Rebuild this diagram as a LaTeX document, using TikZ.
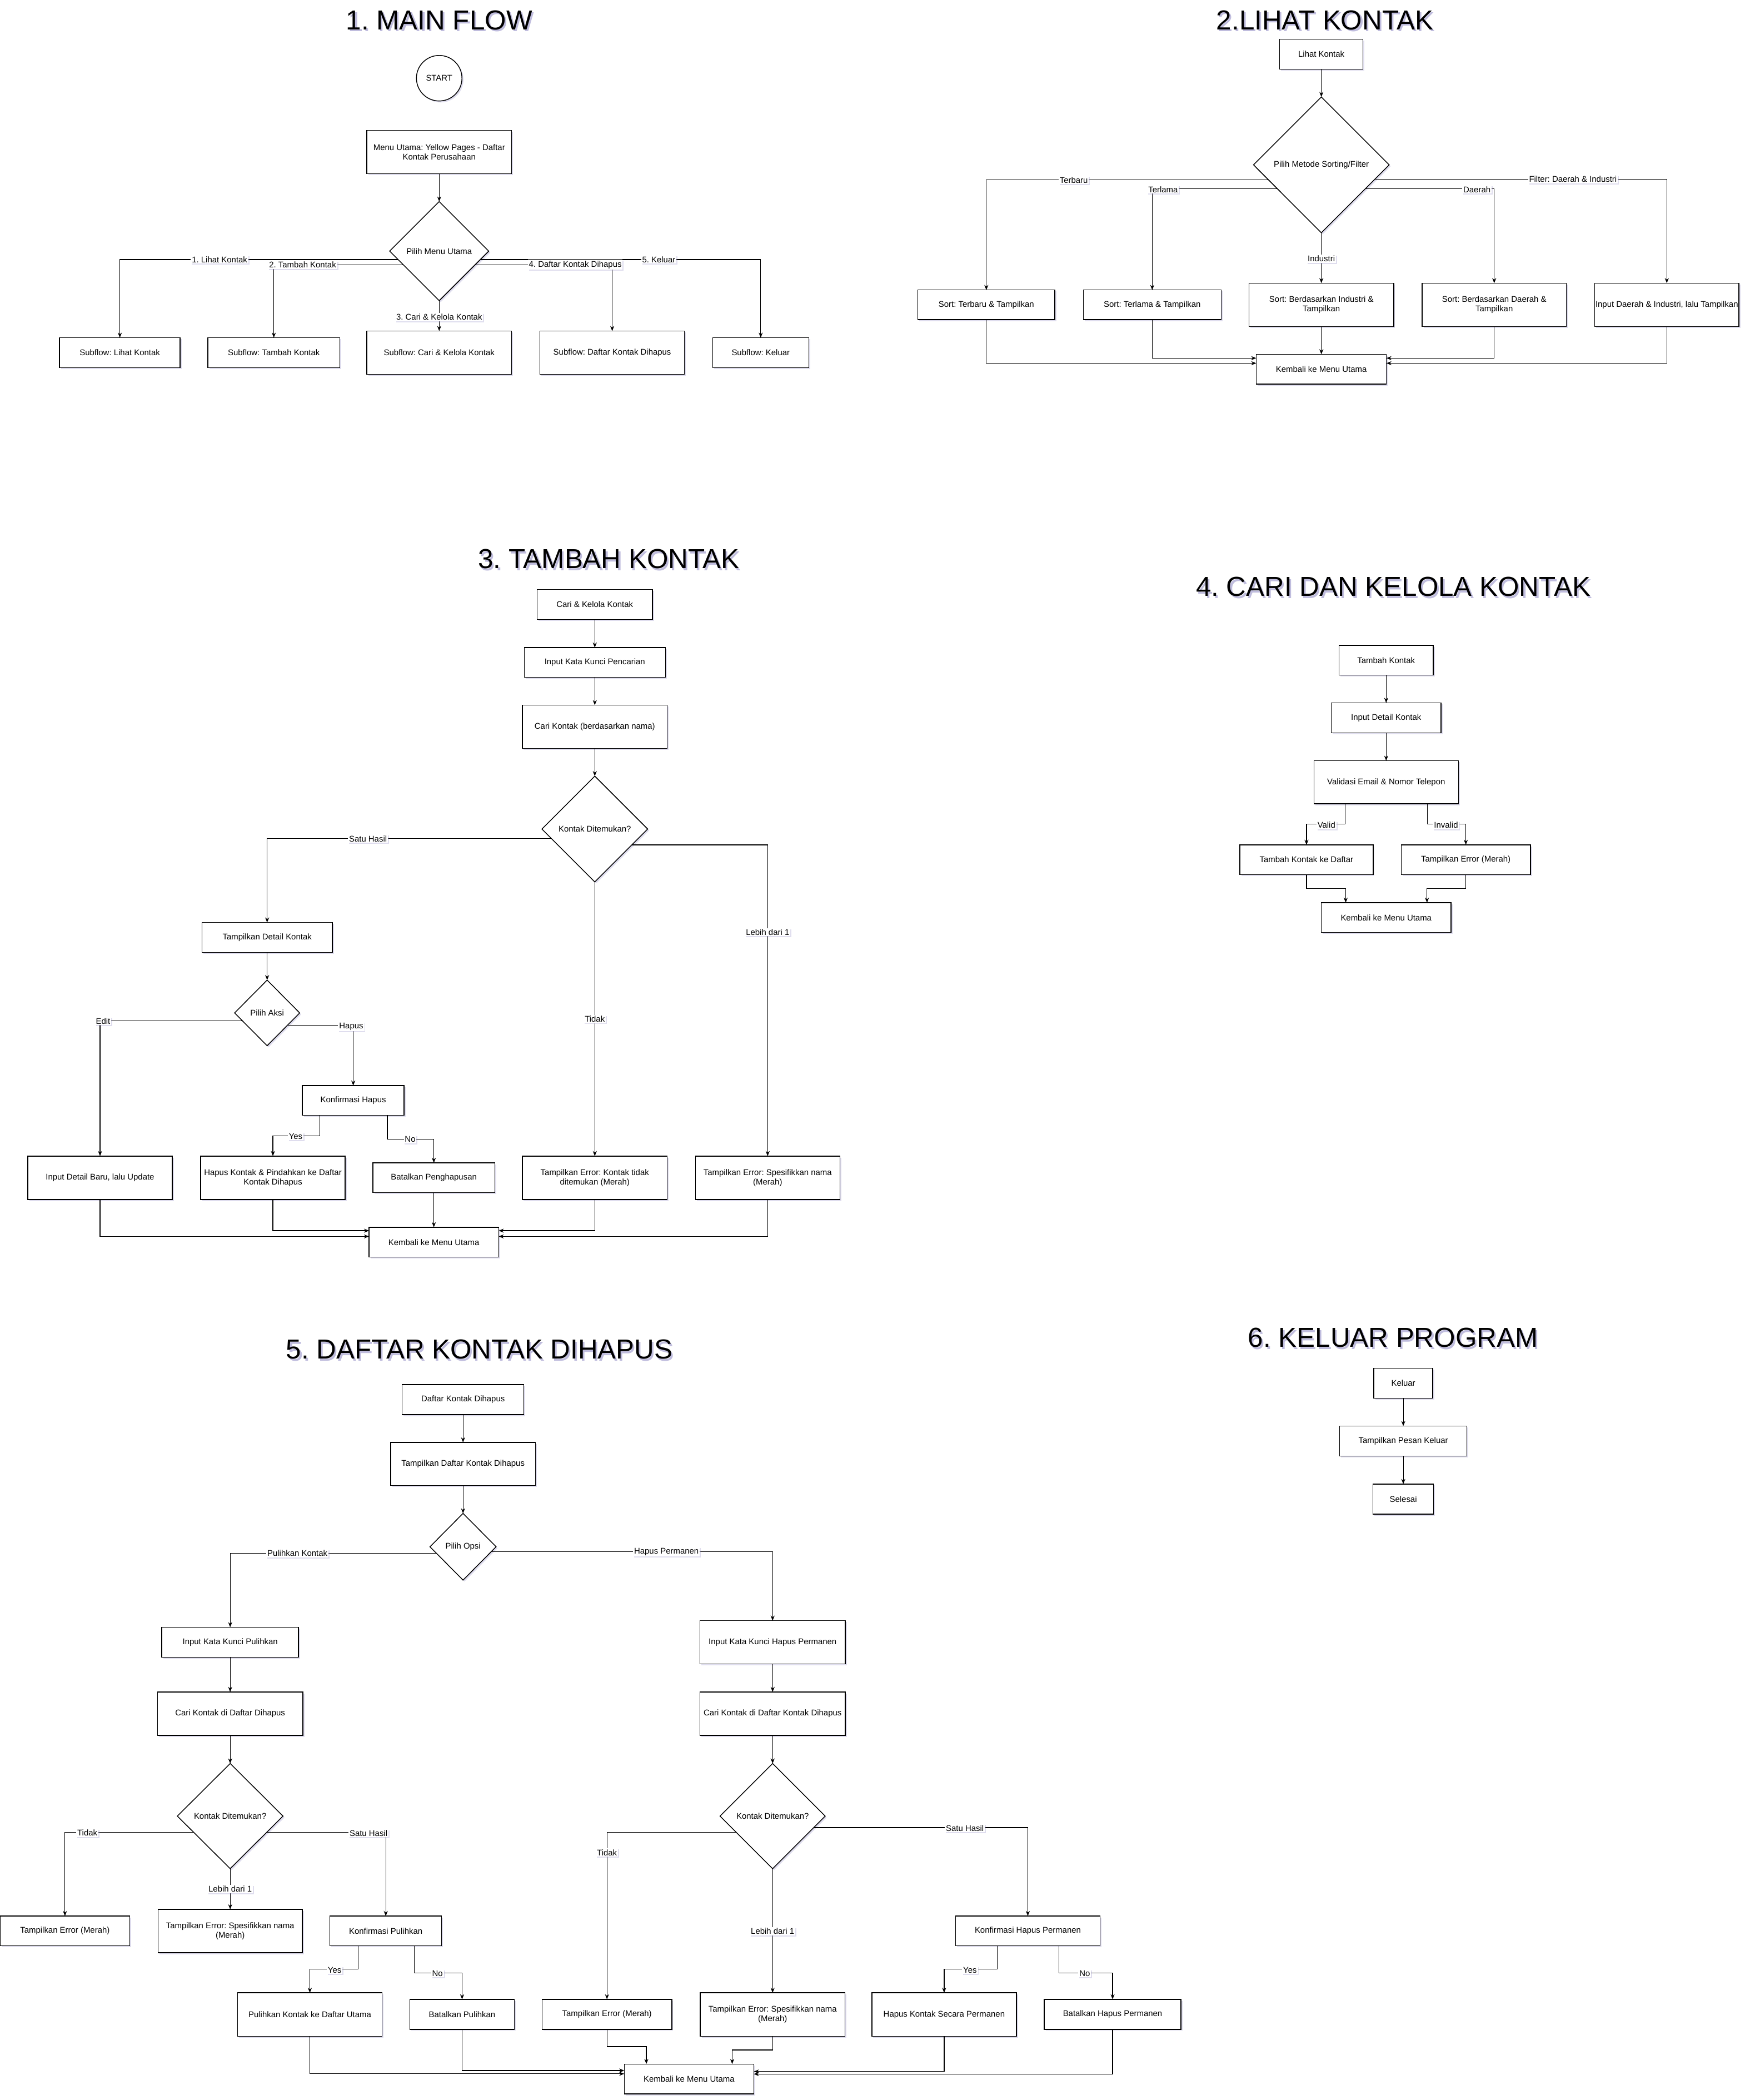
\documentclass[tikz,border=0pt]{standalone}
\usepackage{fontspec}
\setmainfont{Liberation Sans}
\usetikzlibrary{shapes.geometric,arrows.meta,calc,shadows}
\definecolor{shadowcol}{RGB}{150,145,200}
\newcommand\nodefont{\fontsize{6.2}{7.2}\selectfont}
\newcommand\ttlfont{\fontsize{20.5}{24}\selectfont}
\frenchspacing

\begin{document}
\begin{tikzpicture}[x=1pt,y=-1pt,
  every node/.style={outer sep=0pt},
  wh/.style 2 args={minimum width=#1pt,minimum height=#2pt},
  box/.style={draw=black,line width=0.6pt,fill=white,font=\nodefont,align=center,inner sep=0.3pt,
    drop shadow={shadow xshift=1.1pt,shadow yshift=-1.1pt,fill=shadowcol,opacity=0.3}},
  dia/.style={box,diamond,inner sep=0pt},
  arr/.style={draw=black,line width=0.5pt,-{Stealth[length=3.8pt,width=3pt]}},
  lbl/.style={fill=white,font=\nodefont,inner sep=0.8pt,
    drop shadow={shadow xshift=0.8pt,shadow yshift=-0.8pt,fill=shadowcol,opacity=0.3}},
  ttl/.style={font=\ttlfont,inner sep=0pt},
  ttlsh/.style={ttl,text=shadowcol!60}
]
\fill[white] (0,0) rectangle (1303,1568);
\useasboundingbox (0,0) rectangle (1303,1568);

% ---------- titles ----------
\node[ttlsh] (t1s) at (329.3,16.6) {1. MAIN FLOW};
\node[ttl] (t1) at (328,15) {1. MAIN FLOW};
\node[ttlsh] (t2s) at (990.8,16.6) {2.LIHAT KONTAK};
\node[ttl] (t2) at (989.5,15) {2.LIHAT KONTAK};
\node[ttlsh] (t3s) at (456,419.1) {3. TAMBAH KONTAK};
\node[ttl] (t3) at (454.7,417.5) {3. TAMBAH KONTAK};
\node[ttlsh] (t4s) at (1041.8,439.6) {4. CARI DAN KELOLA KONTAK};
\node[ttl] (t4) at (1040.5,438) {4. CARI DAN KELOLA KONTAK};
\node[ttlsh] (t5s) at (359.3,1009.2) {5. DAFTAR KONTAK DIHAPUS};
\node[ttl] (t5) at (358,1007.6) {5. DAFTAR KONTAK DIHAPUS};
\node[ttlsh] (t6s) at (1041.6,1000.4) {6. KELUAR PROGRAM};
\node[ttl] (t6) at (1040.3,998.8) {6. KELUAR PROGRAM};

% ---------- 1. main flow ----------
\node[box,circle,minimum size=34pt] (start) at (328,58.4) {START};
\node[box,wh={108}{32.4}] (menu) at (328,113.5) {Menu Utama: Yellow Pages - Daftar\\Kontak Perusahaan};
\node[dia,wh={74}{74}] (pmu) at (328,187.5) {Pilih Menu Utama};
\node[box,wh={90}{22.3}] (sf1) at (89.5,263.3) {Subflow: Lihat Kontak};
\node[box,wh={98.4}{22.3}] (sf2) at (204.5,263.3) {Subflow: Tambah Kontak};
\node[box,wh={108}{32.3}] (sf3) at (328,263.3) {Subflow: Cari \& Kelola Kontak};
\node[box,wh={108}{32.3}] (sf4) at (457.2,263.3) {Subflow: Daftar Kontak Dihapus};
\node[box,wh={71.8}{22.3}] (sf5) at (568.1,263.3) {Subflow: Keluar};

\draw[arr] (menu.south) -- (pmu.north);
\draw[arr] ($(pmu.west)!0.17!(pmu.south)$) -| (sf1.north);
\draw[arr] ($(pmu.west)!0.276!(pmu.south)$) -| (sf2.north);
\draw[arr] (pmu.south) -- (sf3.north);
\draw[arr] ($(pmu.east)!0.276!(pmu.south)$) -| (sf4.north);
\draw[arr] ($(pmu.east)!0.17!(pmu.south)$) -| (sf5.north);

\node[lbl] (l11) at (164,193.8) {1. Lihat Kontak};
\node[lbl] (l12) at (226,197.7) {2. Tambah Kontak};
\node[lbl] (l13) at (328,236.7) {3. Cari \& Kelola Kontak};
\node[lbl] (l14) at (429.6,197.7) {4. Daftar Kontak Dihapus};
\node[lbl] (l15) at (492,193.8) {5. Keluar};

% ---------- 2. lihat kontak ----------
\node[box,wh={62.2}{22.4}] (lk) at (986.8,40.4) {Lihat Kontak};
\node[dia,wh={101.3}{101.4}] (pms) at (986.8,123.1) {Pilih Metode Sorting/Filter};
\node[box,wh={102.2}{22.1}] (sb) at (736.6,227.6) {Sort: Terbaru \& Tampilkan};
\node[box,wh={103}{22.1}] (sl) at (860.5,227.6) {Sort: Terlama \& Tampilkan};
\node[box,wh={108}{32.4}] (si) at (986.8,227.6) {Sort: Berdasarkan Industri \&\\Tampilkan};
\node[box,wh={107.6}{32.4}] (sd) at (1115.9,227.6) {Sort: Berdasarkan Daerah \&\\Tampilkan};
\node[box,wh={107.6}{32.4}] (sf) at (1244.8,227.6) {Input Daerah \& Industri, lalu Tampilkan};
\node[box,wh={97.2}{22.3}] (k2) at (986.8,275.7) {Kembali ke Menu Utama};

\draw[arr] (lk.south) -- (pms.north);
\draw[arr] ($(pms.west)!0.223!(pms.south)$) -| (sb.north);
\draw[arr] ($(pms.west)!0.353!(pms.south)$) -| (sl.north);
\draw[arr] (pms.south) -- (si.north);
\draw[arr] ($(pms.east)!0.353!(pms.south)$) -| (sd.north);
\draw[arr] ($(pms.east)!0.211!(pms.south)$) -| (sf.north);
\draw[arr] (sb.south) |- ($(k2.west)+(0,-4.5)$);
\draw[arr] (sl.south) |- ($(k2.west)+(0,-8.3)$);
\draw[arr] (si.south) -- (k2.north);
\draw[arr] (sd.south) |- ($(k2.east)+(0,-8.3)$);
\draw[arr] (sf.south) |- ($(k2.east)+(0,-4.5)$);

\node[lbl] (l21) at (801.9,134.4) {Terbaru};
\node[lbl] (l22) at (868.6,141.5) {Terlama};
\node[lbl] (l23) at (1174.7,133.8) {Filter: Daerah \& Industri};
\node[lbl] (l24) at (1103,141.5) {Daerah};
\node[lbl] (l25) at (986.8,193.1) {Industri};

% ---------- 3. tambah kontak ----------
\node[box,wh={86}{22.4}] (ck) at (444.2,451.4) {Cari \& Kelola Kontak};
\node[box,wh={105.4}{22.2}] (ik) at (444.2,494.6) {Input Kata Kunci Pencarian};
\node[box,wh={108.3}{32.4}] (cn) at (444.2,542.7) {Cari Kontak (berdasarkan nama)};
\node[dia,wh={79}{79}] (kd3) at (444.2,619) {Kontak Ditemukan?};
\node[box,wh={97.5}{22.4}] (td) at (199.5,700) {Tampilkan Detail Kontak};
\node[dia,wh={48.6}{49}] (pa) at (199.5,756.3) {Pilih Aksi};
\node[box,wh={76}{22.3}] (kh) at (263.8,821.7) {Konfirmasi Hapus};
\node[box,wh={108}{32.4}] (ib) at (74.7,879.4) {Input Detail Baru, lalu Update};
\node[box,wh={108}{32.4}] (hk) at (203.8,879.4) {Hapus Kontak \& Pindahkan ke Daftar\\Kontak Dihapus};
\node[box,wh={91}{22.3}] (bp) at (324,879.4) {Batalkan Penghapusan};
\node[box,wh={108.3}{32.4}] (ek) at (444.2,879.4) {Tampilkan Error: Kontak tidak\\ditemukan (Merah)};
\node[box,wh={108}{32.4}] (es) at (573.3,879.4) {Tampilkan Error: Spesifikkan nama\\(Merah)};
\node[box,wh={96.8}{22.3}] (k3) at (324,927.5) {Kembali ke Menu Utama};

\draw[arr] (ck.south) -- (ik.north);
\draw[arr] (ik.south) -- (cn.north);
\draw[arr] (cn.south) -- (kd3.north);
\draw[arr] ($(kd3.west)!0.182!(kd3.south)$) -| (td.north);
\draw[arr] ($(kd3.east)!0.299!(kd3.south)$) -| (es.north);
\draw[arr] (kd3.south) -- (ek.north);
\draw[arr] (td.south) -- (pa.north);
\draw[arr] ($(pa.west)!0.235!(pa.south)$) -| (ib.north);
\draw[arr] ($(pa.east)!0.371!(pa.south)$) -| (kh.north);
\draw[arr] ($(kh.south)+(-25.1,0)$) -- ++(0,15.2) -| (hk.north);
\draw[arr] ($(kh.south)+(25.5,0)$) -- ++(0,17.6) -| (bp.north);
\draw[arr] (ib.south) |- ($(k3.west)+(0,-4.3)$);
\draw[arr] (hk.south) |- ($(k3.west)+(0,-8.6)$);
\draw[arr] (bp.south) -- (k3.north);
\draw[arr] (ek.south) |- ($(k3.east)+(0,-8.6)$);
\draw[arr] (es.south) |- ($(k3.east)+(0,-4.3)$);

\node[lbl] (l31) at (274.8,626.2) {Satu Hasil};
\node[lbl] (l32) at (573.3,696) {Lebih dari 1};
\node[lbl] (l33) at (444.2,760.8) {Tidak};
\node[lbl] (l34) at (77,762.3) {Edit};
\node[lbl] (l35) at (262.3,766.5) {Hapus};
\node[lbl] (l36) at (220.8,848.3) {Yes};
\node[lbl] (l37) at (306.3,850.6) {No};

% ---------- 4. cari dan kelola kontak ----------
\node[box,wh={70.4}{22.3}] (tk) at (1035.2,493) {Tambah Kontak};
\node[box,wh={82}{22.4}] (idk) at (1035.2,536) {Input Detail Kontak};
\node[box,wh={107.9}{32.2}] (ve) at (1035.2,584.1) {Validasi Email \& Nomor Telepon};
\node[box,wh={99.5}{22.2}] (tkd) at (975.7,641.9) {Tambah Kontak ke Daftar};
\node[box,wh={96.6}{22.2}] (tem) at (1094.7,641.9) {Tampilkan Error (Merah)};
\node[box,wh={96.9}{22.2}] (k4) at (1035.2,685.1) {Kembali ke Menu Utama};

\draw[arr] (tk.south) -- (idk.north);
\draw[arr] (idk.south) -- (ve.north);
\draw[arr] ($(ve.south)+(-30.6,0)$) -- ++(0,15.2) -| (tkd.north);
\draw[arr] ($(ve.south)+(30.9,0)$) -- ++(0,15.2) -| (tem.north);
\draw[arr] (tkd.south) -- ++(0,10.4) -| ($(k4.north)+(-30.2,0)$);
\draw[arr] (tem.south) -- ++(0,10.4) -| ($(k4.north)+(30.5,0)$);

\node[lbl] (l41) at (990.6,616) {Valid};
\node[lbl] (l42) at (1079.9,616) {Invalid};

% ---------- 6. keluar program ----------
\node[box,wh={44}{22.5}] (ke) at (1048,1032.8) {Keluar};
\node[box,wh={95}{22.5}] (tpk) at (1048,1076) {Tampilkan Pesan Keluar};
\node[box,wh={45.3}{22.5}] (sel) at (1048,1119.3) {Selesai};
\draw[arr] (ke.south) -- (tpk.north);
\draw[arr] (tpk.south) -- (sel.north);

% ---------- 5. daftar kontak dihapus ----------
\node[box,wh={90.9}{22.5}] (dkd) at (345.8,1045) {Daftar Kontak Dihapus};
\node[box,wh={108}{32.2}] (tdk) at (345.8,1093.1) {Tampilkan Daftar Kontak Dihapus};
\node[dia,wh={49.4}{49.8}] (po) at (345.8,1154.9) {Pilih Opsi};
\node[box,wh={102.1}{22.4}] (ikp) at (171.9,1226.2) {Input Kata Kunci Pulihkan};
\node[box,wh={108.4}{32.4}] (ikh) at (577,1226.3) {Input Kata Kunci Hapus Permanen};
\node[box,wh={108.7}{32.4}] (cdd) at (171.9,1279.5) {Cari Kontak di Daftar Dihapus};
\node[box,wh={108.4}{32.4}] (cdk) at (577,1279.5) {Cari Kontak di Daftar Kontak Dihapus};
\node[dia,wh={78.9}{78.5}] (kdl) at (171.9,1356) {Kontak Ditemukan?};
\node[dia,wh={78.5}{78.5}] (kdr) at (577,1356) {Kontak Ditemukan?};
\node[box,wh={97}{22.2}] (eml) at (48.5,1441.7) {Tampilkan Error (Merah)};
\node[box,wh={107.8}{32.3}] (esl) at (171.9,1441.8) {Tampilkan Error: Spesifikkan nama\\(Merah)};
\node[box,wh={83.5}{22.2}] (kp) at (288.1,1441.7) {Konfirmasi Pulihkan};
\node[box,wh={108}{32.5}] (pku) at (231.4,1504.2) {Pulihkan Kontak ke Daftar Utama};
\node[box,wh={78}{22.4}] (bpu) at (345.1,1504) {Batalkan Pulihkan};
\node[box,wh={96.8}{22.4}] (emr) at (453.3,1504) {Tampilkan Error (Merah)};
\node[box,wh={108}{32.5}] (esr) at (577,1504.2) {Tampilkan Error: Spesifikkan nama\\(Merah)};
\node[box,wh={107.7}{22.2}] (khp) at (767.6,1441.7) {Konfirmasi Hapus Permanen};
\node[box,wh={108}{32.5}] (hks) at (705.1,1504.2) {Hapus Kontak Secara Permanen};
\node[box,wh={102.2}{22.4}] (bhp) at (830.9,1504) {Batalkan Hapus Permanen};
\node[box,wh={96.7}{22.4}] (k5) at (514.6,1552.3) {Kembali ke Menu Utama};

\draw[arr] (dkd.south) -- (tdk.north);
\draw[arr] (tdk.south) -- (po.north);
\draw[arr] ($(po.west)!0.193!(po.south)$) -| (ikp.north);
\draw[arr] ($(po.east)!0.153!(po.south)$) -| (ikh.north);
\draw[arr] (ikp.south) -- (cdd.north);
\draw[arr] (ikh.south) -- (cdk.north);
\draw[arr] (cdd.south) -- (kdl.north);
\draw[arr] (cdk.south) -- (kdr.north);
\draw[arr] ($(kdl.west)!0.306!(kdl.south)$) -| (eml.north);
\draw[arr] (kdl.south) -- (esl.north);
\draw[arr] ($(kdl.east)!0.313!(kdl.south)$) -| (kp.north);
\draw[arr] ($(kp.south)+(-20.5,0)$) -- ++(0,17.6) -| (pku.north);
\draw[arr] ($(kp.south)+(21.2,0)$) -- ++(0,20.2) -| (bpu.north);
\draw[arr] ($(kdr.west)!0.306!(kdr.south)$) -| (emr.north);
\draw[arr] (kdr.south) -- (esr.north);
\draw[arr] ($(kdr.east)!0.219!(kdr.south)$) -| (khp.north);
\draw[arr] ($(khp.south)+(-22.9,0)$) -- ++(0,17.6) -| (hks.north);
\draw[arr] ($(khp.south)+(23.2,0)$) -- ++(0,20.2) -| (bhp.north);
\draw[arr] (pku.south) |- ($(k5.west)+(0,-3.9)$);
\draw[arr] (bpu.south) |- ($(k5.west)+(0,-6.3)$);
\draw[arr] (emr.south) -- ++(0,12.9) -| ($(k5.north)+(-31.9,0)$);
\draw[arr] (esr.south) -- ++(0,10.2) -| ($(k5.north)+(32.2,0)$);
\draw[arr] (hks.south) |- ($(k5.east)+(0,-5.6)$);
\draw[arr] (bhp.south) |- ($(k5.east)+(0,-3.7)$);

\node[lbl] (l51) at (222.1,1159.7) {Pulihkan Kontak};
\node[lbl] (l52) at (497.7,1158.7) {Hapus Permanen};
\node[lbl] (l53) at (65.2,1368.5) {Tidak};
\node[lbl] (l54) at (275.2,1368.8) {Satu Hasil};
\node[lbl] (l55) at (171.9,1410.4) {Lebih dari 1};
\node[lbl] (l56) at (249.9,1471) {Yes};
\node[lbl] (l57) at (326.7,1473.5) {No};
\node[lbl] (l58) at (453.3,1383.2) {Tidak};
\node[lbl] (l59) at (720.6,1365) {Satu Hasil};
\node[lbl] (l5a) at (577,1442) {Lebih dari 1};
\node[lbl] (l5b) at (724.4,1471) {Yes};
\node[lbl] (l5c) at (810.1,1473.5) {No};
\end{tikzpicture}
\end{document}
